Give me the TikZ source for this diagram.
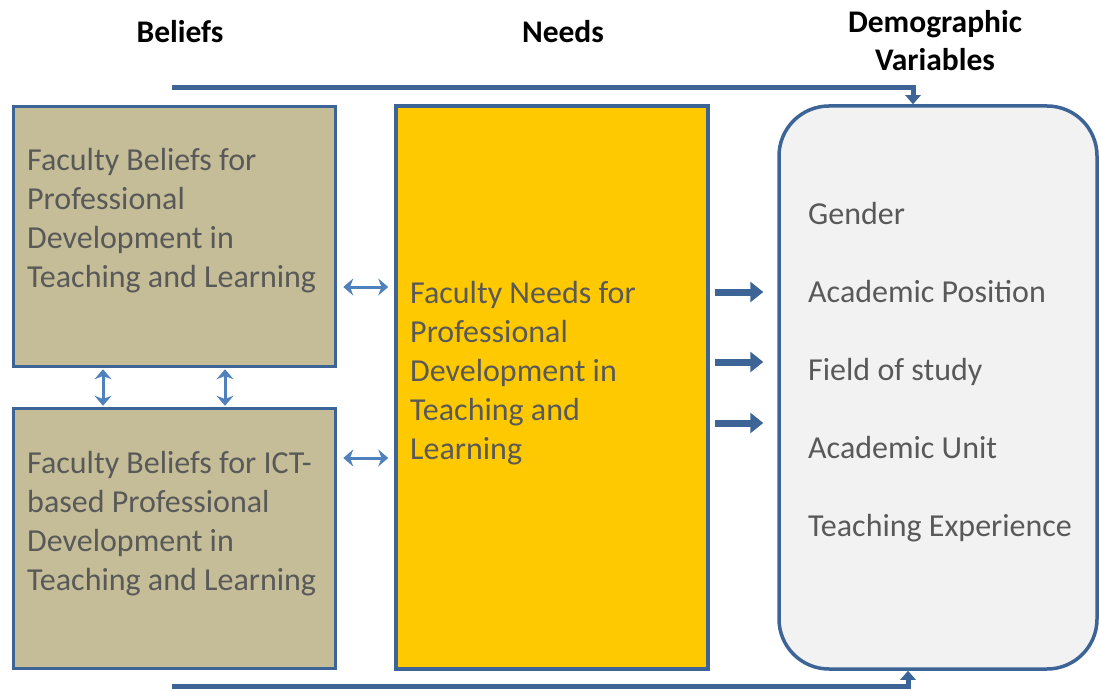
\documentclass[tikz,border=0pt]{standalone}
\usepackage{fontspec}
\setmainfont{Carlito}
\usetikzlibrary{arrows.meta}

\definecolor{boxline}{RGB}{60,100,150}
\definecolor{beliefbg}{RGB}{196,189,151}
\definecolor{needsbg}{RGB}{255,201,0}
\definecolor{demobg}{RGB}{242,242,242}
\definecolor{textgray}{RGB}{89,89,89}
\definecolor{linkblue}{RGB}{79,129,189}

\begin{document}
\begin{tikzpicture}[x=1pt,y=-1pt]
\useasboundingbox (0,0) rectangle (1099,690);

% boxes
\begin{scope}[every node/.style={draw=boxline,line width=3.5pt,inner sep=0pt}]
    \node (belief1) at (174.5,236.5) [minimum width=322pt, minimum height=260pt, fill=beliefbg] {};
    \node (belief2) at (174.5,538.5) [minimum width=322pt, minimum height=260pt, fill=beliefbg] {};
    \node (needs) at (552,387.5) [minimum width=312pt, minimum height=563pt, fill=needsbg] {};
    \node (demo) at (938,387.5) [minimum width=318pt, minimum height=563pt, rounded corners=50pt, fill=demobg] {};
\end{scope}

% headers (base = last line)
\begin{scope}[every node/.style={font=\bfseries\fontsize{31.5}{38}\selectfont, align=center, inner sep=0pt}]
    \node (hbeliefs) at (180,43) [anchor=base] {Beliefs};
    \node (hneeds) at (563,43) [anchor=base] {Needs};
    \node (hdemo) at (935,71) [anchor=base] {Demographic\\Variables};
\end{scope}

% texts in boxes (base = last line)
\begin{scope}[every node/.style={text=textgray, font=\fontsize{32}{39}\selectfont, align=left, inner sep=0pt}]
    \node (b1text) at (27,287) [anchor=base west] {Faculty Beliefs for\\Professional\\Development in\\Teaching and Learning};
    \node (b2text) at (27,590) [anchor=base west] {Faculty Beliefs for ICT-\\based Professional\\Development in\\Teaching and Learning};
    \node (ntext) at (410,459) [anchor=base west] {Faculty Needs for\\Professional\\Development in\\Teaching and\\Learning};
    \node (gender) at (808,224) [anchor=base west] {Gender};
    \node (position) at (808,302) [anchor=base west] {Academic Position};
    \node (field) at (808,380) [anchor=base west] {Field of study};
    \node (unit) at (808,458) [anchor=base west] {Academic Unit};
    \node (experience) at (808,536) [anchor=base west] {Teaching Experience};
\end{scope}

\coordinate (topstart) at (172,88);
\coordinate (botstart) at (172,686);

% links between boxes
\begin{scope}[line width=3pt, draw=linkblue,
              >={Stealth[width=17pt,length=10pt]}]
    \draw [<->, shorten <=6pt, shorten >=6pt] (belief1.east |- 0,287) -- (needs.west |- 0,287);
    \draw [<->, shorten <=6pt, shorten >=6pt] (belief2.east |- 0,458) -- (needs.west |- 0,458);
    \draw [<->, shorten <=1pt, shorten >=1pt] (belief1.south -| 103,0) -- (belief2.north -| 103,0);
    \draw [<->, shorten <=1pt, shorten >=1pt] (belief1.south -| 225,0) -- (belief2.north -| 225,0);
\end{scope}

\begin{scope}[draw=boxline, line width=7pt,
              >={Triangle[width=20pt,length=13pt]}]
    \draw [->, shorten <=5pt, shorten >=14pt] (needs.east |- 0,292) -- (demo.west |- 0,292);
    \draw [->, shorten <=5pt, shorten >=14pt] (needs.east |- 0,362) -- (demo.west |- 0,362);
    \draw [->, shorten <=5pt, shorten >=14pt] (needs.east |- 0,423) -- (demo.west |- 0,423);
\end{scope}

% feedback lines to demographic box
\begin{scope}[draw=boxline, line width=5pt,
              >={Triangle[width=15pt,length=9pt]}]
    \draw [->] (topstart) -| ([xshift=-25pt]demo.north);
    \draw [->] (botstart) -| ([xshift=-30pt]demo.south);
\end{scope}
\end{tikzpicture}
\end{document}
